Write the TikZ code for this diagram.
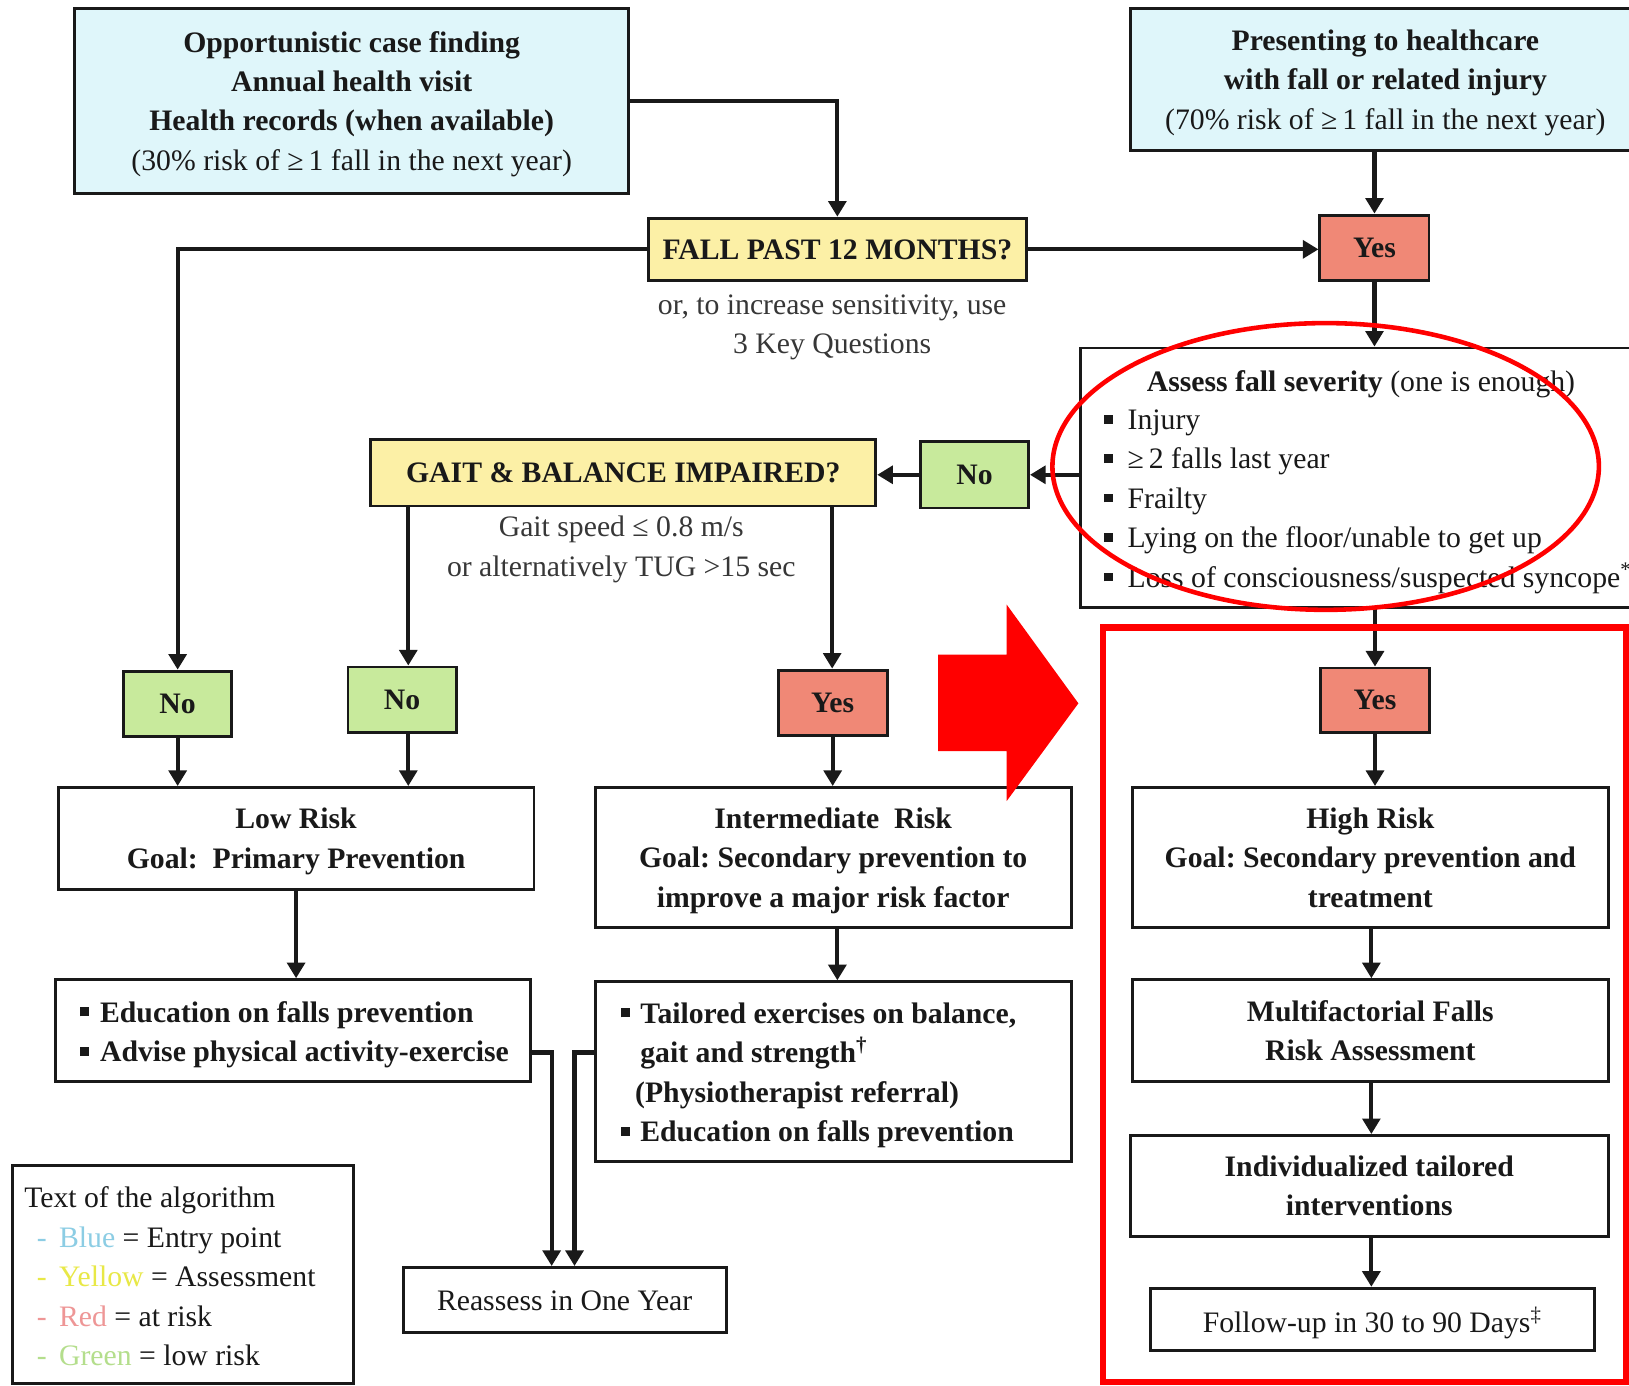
\documentclass[tikz,border=0pt]{standalone}
\usepackage{fontspec}
\setmainfont{Liberation Serif}
\usetikzlibrary{arrows.meta}
\definecolor{entryblue}{RGB}{223,246,250}
\definecolor{assessyellow}{RGB}{252,240,166}
\definecolor{riskred}{RGB}{240,136,118}
\definecolor{lowgreen}{RGB}{200,234,156}
\definecolor{legblue}{RGB}{140,205,228}
\definecolor{legyellow}{RGB}{232,232,70}
\definecolor{legred}{RGB}{238,150,150}
\definecolor{leggreen}{RGB}{180,222,140}
\definecolor{ink}{RGB}{25,25,25}
\definecolor{notegray}{RGB}{55,55,55}
\newcommand\txtsize{\fontsize{14.3pt}{19pt}\selectfont\frenchspacing}
\newcommand\sqbul{\raisebox{0.2em}{\rule{0.3em}{0.3em}}}
\newcommand\bul[2][9.5pt]{\makebox[#1][l]{\sqbul}#2}
\newcommand\lcont[2][9.5pt]{\hspace*{#1}#2}
\newcommand\legitem[2]{\hspace*{6pt}\textcolor{#1}{-}\hspace{6pt}\textcolor{#1}{#2}}
\begin{document}
\begin{tikzpicture}[x=0.5pt,y=-0.5pt,
  every node/.style={font=\txtsize, text=ink},
  bx/.style={draw=ink, line width=1.4pt, inner sep=0pt, align=center, text depth=0pt},
  entrybx/.style={bx, fill=entryblue, font=\txtsize\bfseries},
  querybx/.style={bx, fill=assessyellow, font=\txtsize\bfseries},
  yesbx/.style={bx, fill=riskred, font=\txtsize\bfseries, minimum width=52.5pt, minimum height=31.5pt},
  nobx/.style={bx, fill=lowgreen, font=\txtsize\bfseries, minimum width=52pt, minimum height=31.5pt},
  plainbx/.style={bx, fill=white, font=\txtsize\bfseries},
  listtxt/.style={inner sep=0pt, anchor=west, align=left},
  notetxt/.style={text=notegray, align=center, inner sep=0pt},
  arr/.style={draw=ink, line width=2pt, -{Triangle[length=7.5pt,width=8.5pt]}},
  redline/.style={draw=red, line width=2.2pt}
]
\path[use as bounding box, fill=white] (0,0) rectangle (1568,1334);

% entry points
\node[entrybx, minimum width=266.5pt, minimum height=89pt] (blue1) at (338.5,97)
  {Opportunistic case finding\\Annual health visit\\Health records (when available)\\{\mdseries (30\% risk of ≥\,1 fall in the next year)}};
\node[entrybx, minimum width=245.5pt, minimum height=68.5pt] (blue2) at (1333.5,76.5)
  {Presenting to healthcare\\with fall or related injury\\{\mdseries (70\% risk of ≥\,1 fall in the next year)}};

% first question
\node[querybx, minimum width=182pt, minimum height=30pt] (fall) at (806,240) {FALL PAST 12 MONTHS?};
\node[notetxt] (fallnote) at (801,315) {or, to increase sensitivity, use\\3 Key Questions};
\node[yesbx] (yes1) at (1323,238.5) {Yes};

% severity assessment
\node[bx, fill=white, minimum width=270pt, minimum height=125pt] (assess) at (1310,460) {};
\node[inner sep=0pt] (assesstitle) at (1310,370) {\textbf{Assess fall severity} (one is enough)};
\node[listtxt] (assesslist) at (1062,483)
  {\bul[11.5pt]{Injury}\\\bul[11.5pt]{≥\,2 falls last year}\\\bul[11.5pt]{Frailty}\\\bul[11.5pt]{Lying on the floor/unable to get up}\\\bul[11.5pt]{Loss of consciousness/suspected syncope\textsuperscript{*}}};
\node[nobx, minimum height=32pt] (noA) at (938,457) {No};

% gait question
\node[querybx, minimum width=243pt, minimum height=32pt] (gait) at (600,455) {GAIT \& BALANCE IMPAIRED?};
\node[notetxt] (gaitnote) at (598,529) {Gait speed ≤ 0.8 m/s\\or alternatively TUG >15 sec};

% answers
\node[nobx] (no1) at (171,677.5) {No};
\node[nobx] (no2) at (387,673.5) {No};
\node[yesbx] (yes2) at (801.5,676.5) {Yes};
\node[yesbx, minimum height=31pt] (yes3) at (1323.5,674) {Yes};

% risk levels
\node[plainbx, minimum width=229pt, minimum height=49pt] (low) at (285,807)
  {Low Risk\\Goal:\ \ Primary Prevention};
\node[plainbx, minimum width=229pt, minimum height=67.5pt] (inter) at (802,825.5)
  {Intermediate\ \ Risk\\Goal: Secondary prevention to\\improve a major risk factor};
\node[plainbx, minimum width=229pt, minimum height=67.5pt] (high) at (1319,825.5)
  {High Risk\\Goal: Secondary prevention and\\treatment};

% actions
\node[bx, fill=white, minimum width=229pt, minimum height=49pt] (edu) at (282,992) {};
\node[listtxt, font=\txtsize\bfseries] (edutext) at (77,996)
  {\bul{Education on falls prevention}\\\bul{Advise physical activity-exercise}};
\node[bx, fill=white, minimum width=229pt, minimum height=86.5pt] (tailored) at (802,1031.5) {};
\node[listtxt, font=\txtsize\bfseries] (tailoredtext) at (597,1035)
  {\bul{Tailored exercises on balance,}\\\lcont{gait and strength\textsuperscript{†}}\\\lcont[7pt]{(Physiotherapist referral)}\\\bul{Education on falls prevention}};
\node[plainbx, minimum width=229pt, minimum height=49pt] (multi) at (1319,992)
  {Multifactorial Falls\\Risk Assessment};
\node[plainbx, minimum width=230pt, minimum height=48.5pt] (indiv) at (1318,1141.5)
  {Individualized tailored\\interventions};
\node[bx, fill=white, minimum width=214pt, minimum height=30pt] (follow) at (1321,1270)
  {Follow-up in 30 to 90 Days\textsuperscript{‡}};
\node[bx, fill=white, minimum width=155.5pt, minimum height=31.5pt] (reassess) at (543.5,1251.5)
  {Reassess in One Year};

% colour key
\node[bx, fill=white, minimum width=164pt, minimum height=105pt] (legend) at (176,1227) {};
\node[listtxt] (legendtext) at (23,1228.5)
  {Text of the algorithm\\\legitem{legblue}{Blue} = Entry point\\\legitem{legyellow}{Yellow} = Assessment\\\legitem{legred}{Red} = at risk\\\legitem{leggreen}{Green} = low risk};

% connectors
\coordinate (gaitL) at (393,0);
\coordinate (gaitR) at (801,0);
\coordinate (interdrop) at (806,0);
\coordinate (hidrop) at (1320,0);
\coordinate (joinL) at (531,1013);
\coordinate (joinR) at (553,1013);
\draw[arr] (blue1.east) -| (fall.north);
\draw[arr] (fall.east) -- (fall.east -| yes1.west);
\draw[arr] (yes1.north |- blue2.south) -- (yes1.north);
\draw[arr] (fall.west) -| (no1.north);
\draw[arr] (yes1.south) -- (assess.north -| yes1.south);
\draw[arr] (assess.west |- noA.east) -- (noA.east);
\draw[arr] (noA.west) -- (gait.east |- noA.west);
\draw[arr] (gait.south -| gaitL) -- (no2.north -| gaitL);
\draw[arr] (gait.south -| gaitR) -- (yes2.north -| gaitR);
\draw[arr] (no1.south) -- (low.north -| no1.south);
\draw[arr] (no2.south -| gaitL) -- (low.north -| gaitL);
\draw[arr] (yes2.south) -- (inter.north -| yes2.south);
\draw[arr] (assess.south -| yes3.north) -- (yes3.north);
\draw[arr] (yes3.south) -- (high.north -| yes3.south);
\draw[arr] (low.south) -- (edu.north -| low.south);
\draw[arr] (inter.south -| interdrop) -- (tailored.north -| interdrop);
\draw[arr] (high.south -| hidrop) -- (multi.north -| hidrop);
\draw[arr] (multi.south -| hidrop) -- (indiv.north -| hidrop);
\draw[arr] (indiv.south -| hidrop) -- (follow.north -| hidrop);
\draw[arr] (edu.east |- joinL) -| (reassess.north -| joinL);
\draw[arr] (tailored.west |- joinR) -| (reassess.north -| joinR);

% red highlights
\draw[redline] (1276,449) ellipse [x radius=131.5pt, y radius=69pt];
\draw[draw=red, line width=3pt] (1062,604) rectangle (1565,1330);
\fill[red] (903,630) -- (969,630) -- (969,582) -- (1038,677) -- (969,771) -- (969,723) -- (903,723) -- cycle;
\end{tikzpicture}
\end{document}
